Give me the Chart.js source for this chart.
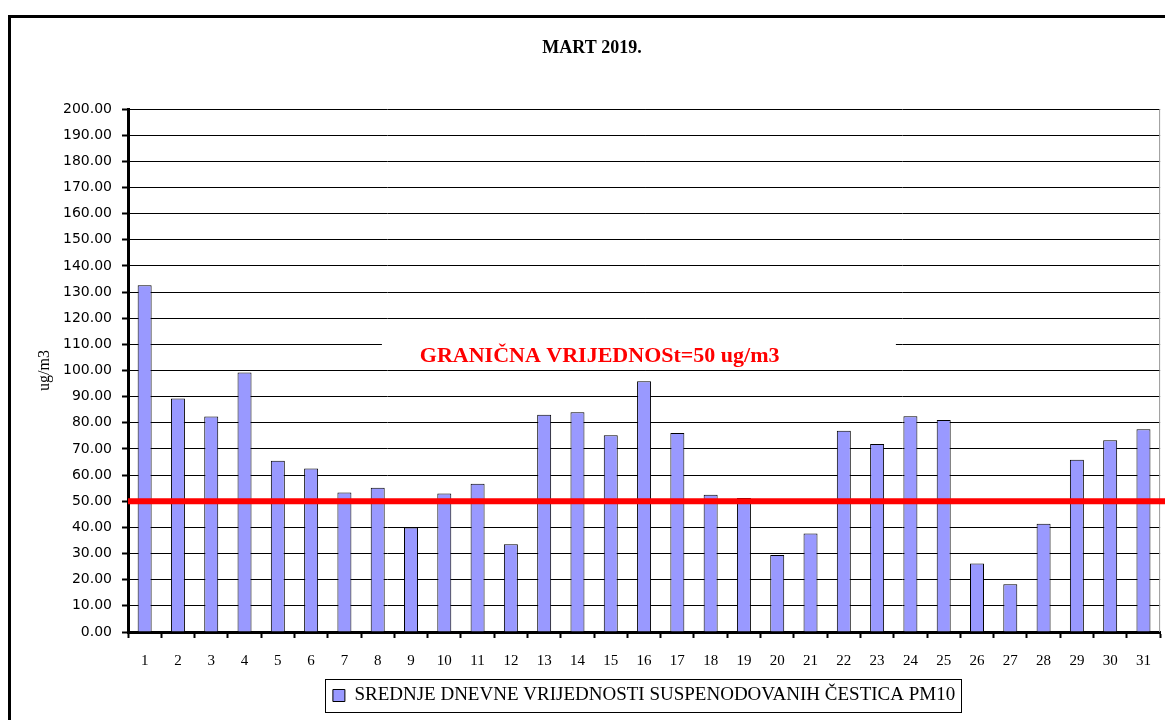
<!DOCTYPE html>
<html><head><meta charset="utf-8">
<script src="https://cdn.jsdelivr.net/npm/chart.js@4.4.1/dist/chart.umd.min.js"></script>
<style>
html,body{margin:0;padding:0;background:#fff;overflow:hidden;width:1165px;height:720px;}
#frame{position:absolute;left:8px;top:15px;width:1200px;height:800px;border:3px solid #000;box-sizing:border-box;}
#wrap{position:absolute;left:0;top:0;width:1165px;height:720px;}
</style></head><body>
<div id="frame"></div>
<div id="wrap"><canvas id="c" width="1165" height="720"></canvas></div>
<script>
const chartTitle = 'MART 2019.';
const days = ['1','2','3','4','5','6','7','8','9','10','11','12','13','14','15','16','17','18','19','20','21','22','23','24','25','26','27','28','29','30','31'];
const pm10 = [132.6, 89.3, 82.4, 99.2, 65.5, 62.5, 53.3, 55.2, 40.0, 53.0, 56.7, 33.6, 83.1, 84.0, 75.2, 95.9, 76.1, 52.5, 51.2, 29.4, 37.7, 77.0, 71.9, 82.5, 81.1, 26.2, 18.3, 41.4, 65.9, 73.3, 77.5];
const seriesLabel = 'SREDNJE DNEVNE VRIJEDNOSTI SUSPENODOVANIH ČESTICA PM10';
const limitValue = 50;
const limitLabel = 'GRANIČNA VRIJEDNOSt=50 ug/m3';
const yMin = 0, yMax = 200, yStep = 10;
const yTitle = 'ug/m3';

const annot = {
  id: 'annot',
  beforeDatasetsDraw(chart) {
    const {ctx, chartArea: a, scales: {y}} = chart;
    const w = a.right - a.left;
    ctx.save();
    ctx.fillStyle = '#fff';
    const t = y.getPixelForValue(113.5), b = y.getPixelForValue(101.5);
    ctx.fillRect(a.left + w * 0.246, t, w * 0.498, b - t);
    ctx.strokeStyle = '#999';
    ctx.lineWidth = 1;
    ctx.beginPath();
    ctx.moveTo(a.right - 0.5, a.top);
    ctx.lineTo(a.right - 0.5, a.bottom);
    ctx.stroke();
    ctx.restore();
  },
  afterDatasetsDraw(chart) {
    const {ctx, chartArea: a, scales: {y}} = chart;
    const w = a.right - a.left;
    ctx.save();
    const ly = y.getPixelForValue(limitValue);
    ctx.strokeStyle = '#ff0000';
    ctx.lineWidth = 6;
    ctx.beginPath();
    ctx.moveTo(a.left, ly);
    ctx.lineTo(chart.width, ly);
    ctx.stroke();
    ctx.fillStyle = '#ff0000';
    ctx.font = 'bold 22px "Liberation Serif"';
    ctx.textAlign = 'center';
    ctx.textBaseline = 'middle';
    ctx.fillText(limitLabel, a.left + w * 0.457, y.getPixelForValue(105.6));
    ctx.fillStyle = '#000';
    ctx.font = 'bold 18px "Liberation Serif"';
    ctx.fillText(chartTitle, 592, 48);
    ctx.restore();
  },
  afterDraw(chart) {
    const lg = chart.legend;
    if (!lg || !lg.legendHitBoxes || !lg.legendHitBoxes.length) return;
    const hb = lg.legendHitBoxes[0];
    const ctx = chart.ctx;
    const cy = hb.top + hb.height / 2;
    ctx.save();
    ctx.strokeStyle = '#000';
    ctx.lineWidth = 1;
    ctx.strokeRect(Math.round(hb.left - 8) + 0.5, Math.round(cy - 17) + 0.5, Math.round(hb.width + 14), 33);
    ctx.restore();
  }
};

new Chart(document.getElementById('c'), {
  type: 'bar',
  data: {
    labels: days,
    datasets: [{
      label: seriesLabel,
      data: pm10,
      backgroundColor: '#9999FF',
      borderColor: '#000',
      borderWidth: 1,
      barPercentage: 0.42,
      categoryPercentage: 1
    }]
  },
  options: {
    responsive: false,
    animation: false,
    layout: {padding: {left: 30, top: 109, right: 2, bottom: 5}},
    plugins: {
      legend: {
        position: 'bottom',
        fullSize: false,
        labels: {
          font: {family: '"Liberation Serif"', size: 19},
          color: '#000',
          boxWidth: 12,
          boxHeight: 12,
          padding: 4
        }
      },
      title: {display: false},
      tooltip: {enabled: false}
    },
    scales: {
      x: {
        grid: {display: true, drawOnChartArea: false, offset: true, tickLength: 6, tickColor: '#000', tickWidth: 2},
        border: {color: '#000', width: 3},
        ticks: {font: {family: '"Liberation Serif"', size: 15}, color: '#000', padding: 14, maxRotation: 0, autoSkip: false},
        afterFit(s) { s.height = 50; }
      },
      y: {
        min: yMin, max: yMax,
        ticks: {stepSize: yStep, callback: v => Number(v).toFixed(2), font: {family: '"DejaVu Sans"', size: 14}, color: '#000', padding: 10},
        grid: {color: '#000', lineWidth: 1, tickLength: 6, tickColor: '#000', tickWidth: 2},
        border: {color: '#000', width: 3},
        title: {display: true, text: yTitle, font: {family: '"Liberation Serif"', size: 16}, color: '#000', padding: {top: 5, bottom: 0}},
        afterFit(s) { s.width = 98; }
      }
    }
  },
  plugins: [annot]
});
</script>
</body></html>
